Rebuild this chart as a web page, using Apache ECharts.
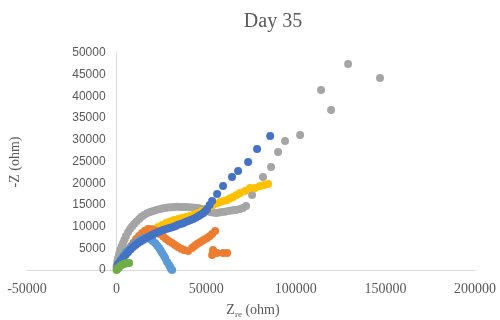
<!DOCTYPE html>
<html>
<head>
<meta charset="utf-8">
<script src="https://cdn.jsdelivr.net/npm/echarts@6/dist/echarts.min.js"></script>
<style>
html,body{margin:0;padding:0;background:#fff;}
#chart{width:500px;height:320px;}
</style>
</head>
<body>
<div id="chart"></div>
<script>
// ---- Data (Z' in ohm, -Z'' in ohm) ----
const titleText = "Day 35";
const xTicks = [-50000, 0, 50000, 100000, 150000, 200000];
const yTicks = [0, 5000, 10000, 15000, 20000, 25000, 30000, 35000, 40000, 45000, 50000];

const seriesGray = [
  [0, 900], [400, 1900], [840, 2760], [1400, 3700], [1950, 4600], [2800, 5400], [3630, 6220],
  [4400, 7000], [5300, 7830], [6400, 8700], [7530, 9450], [8600, 10050],
  [9770, 10600], [11100, 11200], [12560, 11750], [13900, 12250], [15350, 12670],
  [17000, 13050], [18700, 13360], [20400, 13600], [22040, 13820], [23700, 14000],
  [25390, 14170], [27000, 14300], [28740, 14400], [30400, 14480], [32090, 14520],
  [33800, 14550], [35430, 14520], [37100, 14540], [38780, 14520], [40400, 14480],
  [42130, 14400], [43800, 14350], [45480, 14280], [47100, 14100], [48830, 13940],
  [50500, 13600], [52170, 13360], [53800, 13250], [55520, 13130], [57200, 13250],
  [58870, 13360], [60500, 13450], [62220, 13600], [63900, 13700], [65570, 13820],
  [67200, 13900], [68920, 14050], [70500, 14300], [72260, 14750],
  [75600, 17280], [81700, 21430], [86200, 23730], [90100, 27190], [94000, 29720],
  [102400, 31100], [119700, 36860], [114100, 41470], [129200, 47460], [147000, 44240]
];
const seriesYellow = [
  [0, 460], [700, 1150], [1400, 1840], [2800, 2650], [4200, 3460], [5800, 4300],
  [7500, 5070], [9200, 5800], [10900, 6450], [12800, 7150], [14800, 7830],
  [16700, 8450], [18700, 8990], [21000, 9450], [23200, 9900], [25400, 10380],
  [27600, 10830], [29800, 11200], [32100, 11520], [34300, 11760], [36500, 11980],
  [38700, 12200], [41000, 12440], [43200, 12780], [45500, 13130], [47700, 13600],
  [49900, 14050], [51800, 14500], [53800, 14980], [55800, 15350], [57800, 15670],
  [59700, 15900], [61700, 16130], [63300, 16450], [65000, 16820], [67000, 17300],
  [68900, 17740], [71700, 18200], [74500, 18890], [77300, 18890], [80100, 19350],
  [82300, 19600], [84500, 19810]
];
const seriesOrange = [
  [300, 920], [1400, 1600], [2500, 2300], [3900, 3100], [5300, 3920], [6700, 4750],
  [8100, 5530], [9500, 6350], [10900, 7140], [12500, 7850], [14200, 8520],
  [15900, 9050], [17600, 9450], [19300, 9400], [20900, 9220], [22600, 8800],
  [24300, 8290], [26000, 7700], [27600, 7140], [29300, 6650], [31000, 6220],
  [32600, 5750], [34300, 5300], [36000, 4900], [37700, 4610], [39900, 4380],
  [42100, 5070], [43500, 5550], [44900, 5990], [46300, 6350], [47700, 6680],
  [49100, 7000], [50500, 7370], [51900, 7800], [53300, 8290], [55000, 8990],
  [53800, 4610], [53300, 3460], [56100, 3920], [59400, 3920], [61700, 3920]
];
const seriesLightBlue = [
  [300, 920], [1400, 1700], [2500, 2530], [3900, 3350], [5300, 4150], [7000, 4850],
  [8700, 5530], [10300, 6100], [12000, 6680], [13600, 7050], [15300, 7370],
  [17000, 7350], [18700, 7140], [20100, 6700], [21500, 6220], [22600, 5650],
  [23700, 5070], [24600, 4500], [25400, 3920], [26300, 3350], [27100, 2760],
  [28200, 1840], [29300, 1150], [29900, 690], [30400, 230], [31000, 0]
];
const seriesBlue = [
  [500, 400], [800, 1400], [2200, 2100], [3600, 2800], [5000, 3450], [6400, 4100],
  [7800, 4700], [9200, 5300], [10600, 5750], [12000, 6200], [13400, 6550],
  [14800, 6900], [16200, 7250], [17600, 7600], [19000, 7900], [20400, 8200],
  [21800, 8480], [23200, 8750], [24500, 8980], [25900, 9200], [27300, 9380],
  [28700, 9560], [30100, 9730], [31500, 9900], [32900, 10150], [34300, 10400],
  [35700, 10600], [37100, 10800], [38500, 11050], [39900, 11300], [41300, 11520],
  [42700, 11750], [44100, 12050], [45500, 12400], [46900, 12750], [48300, 13100],
  [49400, 13550], [50500, 14050], [51900, 14950], [53300, 15900],
  [56100, 17500], [59400, 19350], [64400, 21400], [67800, 22800], [73400, 24900],
  [78400, 27900], [85700, 30900]
];
const seriesGreen = [
  [0, 0], [500, 300], [1200, 600], [2000, 900], [3000, 1200], [4000, 1400],
  [5000, 1500], [6000, 1600], [7000, 1600]
];

const chart = echarts.init(document.getElementById('chart'), null, {renderer: 'canvas'});

function sc(name, data, color) {
  return {
    name: name, type: 'scatter', data: data, symbol: 'circle', symbolSize: 8,
    itemStyle: {color: color, opacity: 1}, silent: true, animation: false
  };
}

const gridLeft = 27, gridRight = 25;
const plotW = 500 - gridLeft - gridRight;
// shift the vertical axis so it sits at Z' = 0, like the source chart
const yAxisOffset = -plotW * (0 - xTicks[0]) / (xTicks[xTicks.length - 1] - xTicks[0]);

const option = {
  animation: false,
  backgroundColor: '#ffffff',
  grid: {left: gridLeft, right: gridRight, top: 53, bottom: 50, containLabel: false, outerBoundsMode: 'none'},
  xAxis: {
    type: 'value', min: xTicks[0], max: xTicks[xTicks.length - 1], interval: 50000,
    axisLine: {show: true, onZero: true, lineStyle: {color: '#D9D9D9', width: 1}},
    axisTick: {show: false},
    splitLine: {show: false},
    axisLabel: {color: '#595959', fontFamily: 'Liberation Serif', fontSize: 14, margin: 12,
                formatter: v => String(v), hideOverlap: false}
  },
  yAxis: {
    type: 'value', position: 'left', offset: yAxisOffset,
    min: yTicks[0], max: yTicks[yTicks.length - 1], interval: 5000,
    axisLine: {show: true, onZero: false, lineStyle: {color: '#D9D9D9', width: 1}},
    axisTick: {show: false},
    splitLine: {show: false},
    axisLabel: {color: '#595959', fontFamily: 'Liberation Sans', fontSize: 12, margin: 11,
                formatter: v => String(v)}
  },
  graphic: [
    {type: 'text', x: 273, y: 22,
     style: {text: titleText, x: 0, y: 0, align: 'center', verticalAlign: 'middle',
             font: '20px "Liberation Serif"', fill: '#595959'}},
    {type: 'text', x: 253, y: 310,
     style: {text: '{z|Z}{s|re}{z| (ohm)}', x: 0, y: 0, align: 'center', verticalAlign: 'middle',
             fill: '#595959',
             rich: {
               z: {fontFamily: 'Liberation Serif', fontSize: 14, lineHeight: 18, fill: '#595959'},
               s: {fontFamily: 'Liberation Serif', fontSize: 9, lineHeight: 10, verticalAlign: 'bottom', fill: '#595959'}
             }}},
    {type: 'text', x: 15, y: 162, rotation: Math.PI / 2,
     style: {text: '-Z (ohm)', x: 0, y: 0, align: 'center', verticalAlign: 'middle',
             font: '14px "Liberation Serif"', fill: '#595959'}}
  ],
  series: [
    sc('S3', seriesGray, '#A5A5A5'),
    sc('S4', seriesYellow, '#FFC000'),
    sc('S2', seriesOrange, '#ED7D31'),
    sc('S5', seriesLightBlue, '#5B9BD5'),
    sc('S1', seriesBlue, '#4472C4'),
    sc('S6', seriesGreen, '#70AD47')
  ]
};
chart.setOption(option);
</script>
</body>
</html>
